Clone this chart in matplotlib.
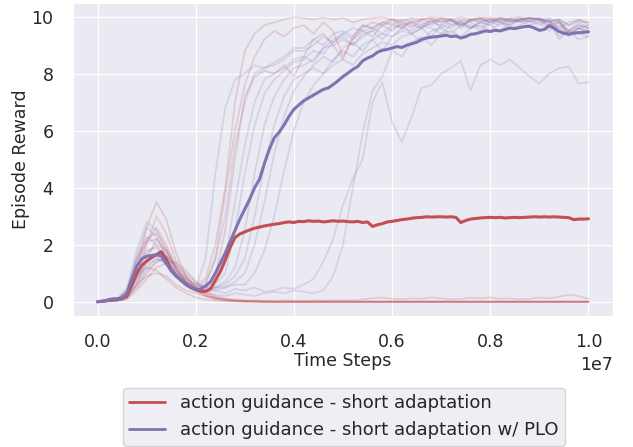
import numpy as np
import matplotlib
matplotlib.use('Agg')
import matplotlib.pyplot as plt
import seaborn as sns
from matplotlib.lines import Line2D

sns.set_style('darkgrid')
plt.rcParams['font.family'] = ['DejaVu Sans']

red = '#C44E52'
purple = '#8172B2'

labels = ['action guidance - short adaptation',
          'action guidance - short adaptation w/ PLO']

# mean curves, 101 points from 0 to 1e7
red_mean = [
    0.0, 0.02, 0.05, 0.08, 0.10, 0.10, 0.20, 0.60, 1.00, 1.28,
    1.42, 1.55, 1.65, 1.76, 1.50, 1.12, 0.92, 0.76, 0.62, 0.50,
    0.42, 0.37, 0.36, 0.45, 0.75, 1.05, 1.45, 1.90, 2.25, 2.38,
    2.45, 2.52, 2.58, 2.62, 2.66, 2.69, 2.72, 2.74, 2.78, 2.80,
    2.78, 2.82, 2.81, 2.84, 2.82, 2.83, 2.80, 2.82, 2.84, 2.82,
    2.83, 2.81, 2.80, 2.82, 2.78, 2.80, 2.64, 2.70, 2.74, 2.80,
    2.82, 2.85, 2.88, 2.90, 2.93, 2.95, 2.96, 2.98, 2.97, 2.98,
    2.98, 2.97, 2.98, 2.96, 2.78, 2.85, 2.90, 2.92, 2.94, 2.95,
    2.96, 2.95, 2.96, 2.94, 2.95, 2.96, 2.95, 2.96, 2.97, 2.98,
    2.97, 2.98, 2.97, 2.98, 2.97, 2.96, 2.95, 2.88, 2.90, 2.90,
    2.91]
purple_mean = [
    0.0, 0.02, 0.06, 0.10, 0.10, 0.12, 0.30, 0.80, 1.25, 1.50,
    1.60, 1.62, 1.65, 1.60, 1.35, 1.08, 0.90, 0.75, 0.60, 0.50,
    0.42, 0.45, 0.55, 0.70, 1.00, 1.35, 1.70, 2.10, 2.50, 2.90,
    3.25, 3.60, 4.00, 4.30, 4.85, 5.35, 5.75, 5.95, 6.20, 6.50,
    6.75, 6.90, 7.05, 7.15, 7.25, 7.35, 7.45, 7.50, 7.62, 7.75,
    7.90, 8.02, 8.15, 8.25, 8.45, 8.55, 8.62, 8.75, 8.82, 8.85,
    8.90, 8.95, 8.92, 9.00, 9.05, 9.10, 9.20, 9.25, 9.28, 9.30,
    9.32, 9.35, 9.30, 9.32, 9.25, 9.30, 9.38, 9.40, 9.45, 9.50,
    9.48, 9.52, 9.50, 9.55, 9.60, 9.58, 9.62, 9.65, 9.66, 9.60,
    9.52, 9.55, 9.68, 9.60, 9.48, 9.42, 9.38, 9.42, 9.44, 9.45,
    9.47]

# individual seeds, 51 points from 0 to 1e7
red_runs = [
    [0.0, 0.05, 0.10, 0.30, 1.20, 2.10, 2.60, 2.00, 1.20, 0.80,
     0.60, 0.80, 2.00, 4.00, 7.00, 8.80, 9.40, 9.70, 9.80, 9.90,
     9.98, 9.95, 9.90, 9.97, 9.90, 9.95, 9.80, 9.90, 9.95, 9.98,
     9.90, 9.85, 9.95, 9.90, 9.97, 9.95, 9.90, 9.98, 9.90, 9.95,
     9.97, 9.90, 9.95, 9.98, 9.92, 9.95, 9.80, 9.90, 9.70, 9.85,
     9.80],
    [0.0, 0.02, 0.05, 0.10, 0.60, 1.50, 2.20, 1.80, 1.10, 0.70,
     0.50, 0.60, 1.50, 3.80, 6.00, 7.60, 8.60, 9.20, 9.50, 9.30,
     9.60, 9.70, 9.40, 9.80, 9.50, 8.60, 9.20, 9.60, 9.80, 9.70,
     9.90, 9.80, 9.60, 9.90, 9.80, 9.95, 9.90, 9.70, 9.85, 9.90,
     9.80, 9.95, 9.90, 9.85, 9.95, 9.90, 9.70, 9.80, 9.50, 9.70,
     9.60],
    [0.0, 0.03, 0.08, 0.20, 0.90, 2.00, 3.00, 2.40, 1.40, 0.90,
     0.60, 0.50, 0.90, 2.50, 5.00, 7.20, 7.90, 8.10, 8.00, 8.30,
     7.90, 8.60, 9.20, 9.40, 9.00, 8.50, 9.30, 9.70, 9.60, 9.80,
     9.90, 9.70, 9.80, 9.90, 9.95, 9.80, 9.90, 9.60, 9.90, 9.95,
     9.90, 9.97, 9.80, 9.90, 9.95, 9.90, 9.60, 9.80, 9.40, 9.60,
     9.70],
    [0.0, 0.02, 0.06, 0.30, 1.20, 2.60, 3.50, 2.90, 1.70, 0.90,
     0.45, 0.20, 0.10, 0.05, 0.03, 0.02, 0.01, 0.0, 0.0, 0.0,
     0.0, 0.0, 0.0, 0.0, 0.0, 0.0, 0.0, 0.0, 0.0, 0.0,
     0.0, 0.0, 0.0, 0.0, 0.0, 0.0, 0.0, 0.0, 0.0, 0.0,
     0.0, 0.0, 0.0, 0.0, 0.0, 0.0, 0.0, 0.0, 0.0, 0.0,
     0.0],
    [0.0, 0.03, 0.08, 0.25, 0.90, 1.70, 2.00, 1.80, 1.20, 0.70,
     0.40, 0.25, 0.12, 0.06, 0.03, 0.02, 0.01, 0.0, 0.0, 0.0,
     0.0, 0.0, 0.0, 0.0, 0.0, 0.0, 0.0, 0.0, 0.0, 0.0,
     0.0, 0.0, 0.0, 0.0, 0.0, 0.0, 0.0, 0.0, 0.0, 0.0,
     0.0, 0.0, 0.0, 0.0, 0.0, 0.0, 0.0, 0.0, 0.0, 0.0,
     0.0],
    [0.0, 0.01, 0.04, 0.15, 0.50, 1.00, 1.40, 1.60, 1.30, 0.90,
     0.50, 0.30, 0.15, 0.08, 0.05, 0.03, 0.02, 0.01, 0.0, 0.0,
     0.0, 0.0, 0.0, 0.0, 0.0, 0.0, 0.0, 0.0, 0.0, 0.0,
     0.0, 0.0, 0.0, 0.0, 0.0, 0.0, 0.0, 0.0, 0.0, 0.0,
     0.0, 0.0, 0.0, 0.0, 0.0, 0.0, 0.0, 0.0, 0.0, 0.0,
     0.0],
    [0.0, 0.02, 0.05, 0.30, 0.90, 1.20, 1.10, 0.80, 0.50, 0.30,
     0.15, 0.08, 0.04, 0.02, 0.01, 0.0, 0.0, 0.0, 0.0, 0.0,
     0.0, 0.0, 0.0, 0.0, 0.0, 0.0, 0.0, 0.0, 0.0, 0.0,
     0.0, 0.0, 0.0, 0.0, 0.0, 0.0, 0.0, 0.0, 0.0, 0.0,
     0.0, 0.0, 0.0, 0.0, 0.0, 0.0, 0.0, 0.0, 0.0, 0.0,
     0.0],
    [0.0, 0.02, 0.07, 0.40, 1.50, 2.20, 2.40, 1.90, 1.20, 0.70,
     0.40, 0.20, 0.10, 0.05, 0.02, 0.01, 0.0, 0.0, 0.0, 0.0,
     0.0, 0.0, 0.0, 0.0, 0.0, 0.0, 0.0, 0.0, 0.0, 0.0,
     0.0, 0.0, 0.0, 0.0, 0.0, 0.0, 0.0, 0.0, 0.0, 0.0,
     0.0, 0.0, 0.0, 0.0, 0.0, 0.0, 0.0, 0.0, 0.0, 0.0,
     0.0],
    [0.0, 0.01, 0.03, 0.10, 0.40, 0.80, 1.20, 1.35, 1.40, 1.10,
     0.70, 0.40, 0.20, 0.10, 0.05, 0.03, 0.02, 0.01, 0.0, 0.0,
     0.0, 0.0, 0.0, 0.0, 0.0, 0.0, 0.0, 0.0, 0.0, 0.0,
     0.0, 0.0, 0.0, 0.0, 0.0, 0.0, 0.0, 0.0, 0.0, 0.0,
     0.0, 0.0, 0.0, 0.0, 0.0, 0.0, 0.0, 0.0, 0.0, 0.0,
     0.0],
    [0.0, 0.02, 0.05, 0.20, 0.60, 0.90, 1.00, 0.90, 0.60, 0.40,
     0.30, 0.20, 0.15, 0.10, 0.08, 0.05, 0.05, 0.04, 0.03, 0.05,
     0.04, 0.03, 0.05, 0.04, 0.06, 0.05, 0.05, 0.08, 0.12, 0.15,
     0.10, 0.08, 0.12, 0.10, 0.15, 0.12, 0.08, 0.10, 0.14, 0.12,
     0.15, 0.10, 0.12, 0.08, 0.10, 0.15, 0.12, 0.18, 0.25, 0.20,
     0.10],
]

purple_runs = [
    [0.0, 0.03, 0.10, 0.40, 1.50, 2.30, 2.00, 1.40, 0.90, 0.60,
     0.50, 1.50, 4.50, 6.80, 7.80, 8.00, 8.30, 8.20, 8.40, 8.60,
     8.90, 8.90, 9.20, 9.00, 9.40, 9.50, 9.30, 9.70, 9.60, 9.80,
     9.70, 9.90, 9.80, 9.60, 9.90, 9.80, 9.90, 9.70, 9.85, 9.90,
     9.80, 9.95, 9.90, 9.85, 9.90, 9.95, 9.80, 9.60, 9.80, 9.90,
     9.70],
    [0.0, 0.02, 0.08, 0.30, 1.20, 1.80, 1.90, 1.50, 1.00, 0.70,
     0.50, 0.70, 1.50, 3.00, 5.50, 7.00, 8.00, 8.20, 8.30, 8.50,
     8.80, 8.80, 9.00, 9.30, 9.10, 9.40, 9.60, 9.50, 9.30, 9.70,
     9.80, 9.60, 9.90, 9.80, 9.70, 9.90, 9.85, 9.70, 9.90, 9.95,
     9.80, 9.90, 9.85, 9.90, 9.95, 9.90, 9.70, 9.85, 9.50, 9.80,
     9.60],
    [0.0, 0.02, 0.10, 0.50, 1.80, 2.80, 2.50, 1.80, 1.10, 0.70,
     0.40, 0.50, 0.70, 1.50, 3.50, 5.50, 7.00, 7.80, 8.00, 8.20,
     8.50, 8.60, 8.40, 8.90, 9.20, 9.40, 9.20, 9.50, 9.60, 9.40,
     9.70, 9.60, 9.80, 9.70, 9.90, 9.60, 9.80, 9.90, 9.80, 9.60,
     9.90, 9.80, 9.90, 9.95, 9.80, 9.90, 9.85, 9.90, 9.30, 9.60,
     9.50],
    [0.0, 0.03, 0.05, 0.20, 0.90, 1.50, 1.70, 1.60, 1.20, 0.80,
     0.50, 0.40, 0.60, 1.00, 2.50, 4.50, 6.20, 7.30, 7.80, 8.10,
     8.40, 8.50, 8.80, 8.70, 9.10, 9.30, 9.00, 9.40, 9.50, 9.70,
     9.50, 9.80, 9.70, 9.60, 9.80, 9.90, 9.70, 9.85, 9.90, 9.80,
     9.70, 9.90, 9.85, 9.90, 9.95, 9.90, 9.80, 9.90, 9.70, 9.90,
     9.80],
    [0.0, 0.02, 0.05, 0.30, 1.40, 2.10, 2.20, 1.70, 1.10, 0.70,
     0.50, 0.40, 0.50, 0.70, 1.20, 2.50, 4.50, 6.20, 7.20, 7.80,
     8.20, 8.30, 8.50, 8.90, 9.00, 9.20, 9.00, 9.30, 9.50, 9.20,
     9.60, 9.70, 9.40, 9.60, 9.80, 9.70, 9.90, 9.80, 9.60, 9.80,
     9.90, 9.85, 9.70, 9.90, 9.95, 9.90, 9.85, 9.20, 9.50, 9.40,
     9.30],
    [0.0, 0.02, 0.06, 0.20, 0.80, 1.30, 1.50, 1.40, 1.10, 0.80,
     0.60, 0.50, 0.50, 0.60, 0.90, 1.50, 3.00, 4.80, 6.20, 7.20,
     7.80, 8.00, 8.20, 8.00, 8.50, 8.80, 8.60, 9.00, 9.20, 8.80,
     9.30, 9.50, 9.40, 9.60, 9.30, 9.70, 9.60, 9.80, 9.70, 9.50,
     9.80, 9.70, 9.90, 9.80, 9.85, 9.70, 9.90, 9.30, 9.50, 9.20,
     9.30],
    [0.0, 0.02, 0.04, 0.15, 0.60, 1.10, 1.40, 1.50, 1.30, 1.00,
     0.70, 0.50, 0.40, 0.50, 0.60, 0.60, 1.00, 1.80, 3.00, 4.60,
     6.00, 7.00, 7.60, 8.00, 8.30, 8.50, 8.30, 8.70, 8.90, 9.10,
     9.00, 9.30, 9.40, 9.10, 9.50, 9.60, 9.40, 9.70, 9.60, 9.80,
     9.70, 9.50, 9.80, 9.85, 9.70, 9.80, 9.90, 9.60, 9.40, 9.60,
     9.40],
    [0.0, 0.02, 0.05, 0.20, 0.80, 1.40, 1.60, 1.30, 0.90, 0.60,
     0.40, 0.35, 0.40, 0.30, 0.45, 0.40, 0.50, 0.35, 0.40, 0.50,
     0.45, 0.60, 0.80, 1.40, 2.20, 3.40, 4.30, 5.00, 7.00, 7.70,
     6.30, 5.60, 6.50, 7.50, 7.60, 8.00, 8.20, 8.45, 7.40, 8.30,
     8.50, 8.30, 8.50, 8.20, 7.90, 7.65, 8.00, 8.20, 8.25, 7.65,
     7.70],
    [0.0, 0.02, 0.04, 0.15, 0.70, 1.20, 1.50, 1.40, 1.00, 0.70,
     0.50, 0.30, 0.25, 0.20, 0.30, 0.25, 0.20, 0.30, 0.35, 0.30,
     0.40, 0.35, 0.30, 0.40, 0.90, 2.00, 4.00, 5.90, 7.40, 7.90,
     8.80, 8.60, 9.10, 9.30, 9.00, 9.40, 9.50, 9.30, 9.60, 9.70,
     9.50, 9.80, 9.60, 9.70, 9.85, 9.80, 9.50, 9.70, 9.40, 9.60,
     9.50],
    [0.0, 0.03, 0.08, 0.35, 1.60, 2.60, 2.30, 1.60, 1.00, 0.60,
     0.40, 0.40, 0.50, 0.50, 0.70, 1.00, 2.00, 3.50, 5.20, 6.50,
     7.40, 7.90, 8.30, 8.60, 8.40, 8.90, 9.10, 8.80, 9.20, 9.40,
     9.30, 9.60, 9.50, 9.70, 9.60, 9.40, 9.70, 9.80, 9.60, 9.85,
     9.90, 9.80, 9.70, 9.90, 9.85, 9.90, 9.95, 9.80, 9.50, 9.70,
     9.60],
]

run_steps = np.linspace(0, 1e7, len(red_runs[0]))
mean_steps = np.linspace(0, 1e7, len(red_mean))

fs = 12.5

fig = plt.figure(figsize=(6.33, 4.47), dpi=100)
ax = fig.add_axes([0.1153, 0.2931, 0.8531, 0.7002])

for run in red_runs:
    ax.plot(run_steps, run, color=red, alpha=0.2, lw=1.3)
for run in purple_runs:
    ax.plot(run_steps, run, color=purple, alpha=0.2, lw=1.3)

ax.plot(mean_steps, red_mean, color=red, lw=2.2)
ax.plot(mean_steps, purple_mean, color=purple, lw=2.2)

ax.set_xlabel('Time Steps', fontsize=fs, labelpad=0.6)
ax.set_ylabel('Episode Reward', fontsize=fs, labelpad=1)
ax.tick_params(axis='x', labelsize=fs, pad=9)
ax.tick_params(axis='y', labelsize=fs, pad=10.5)
ax.xaxis.get_offset_text().set_fontsize(fs)

handles = [Line2D([], [], color=red, lw=2), Line2D([], [], color=purple, lw=2)]
fig.legend(handles, labels, loc='upper left', bbox_to_anchor=(0.1943, 0.132),
           borderaxespad=0, fontsize=13, labelspacing=0.5, borderpad=0.35,
           frameon=True)

fig.savefig('out.png', dpi=100)
